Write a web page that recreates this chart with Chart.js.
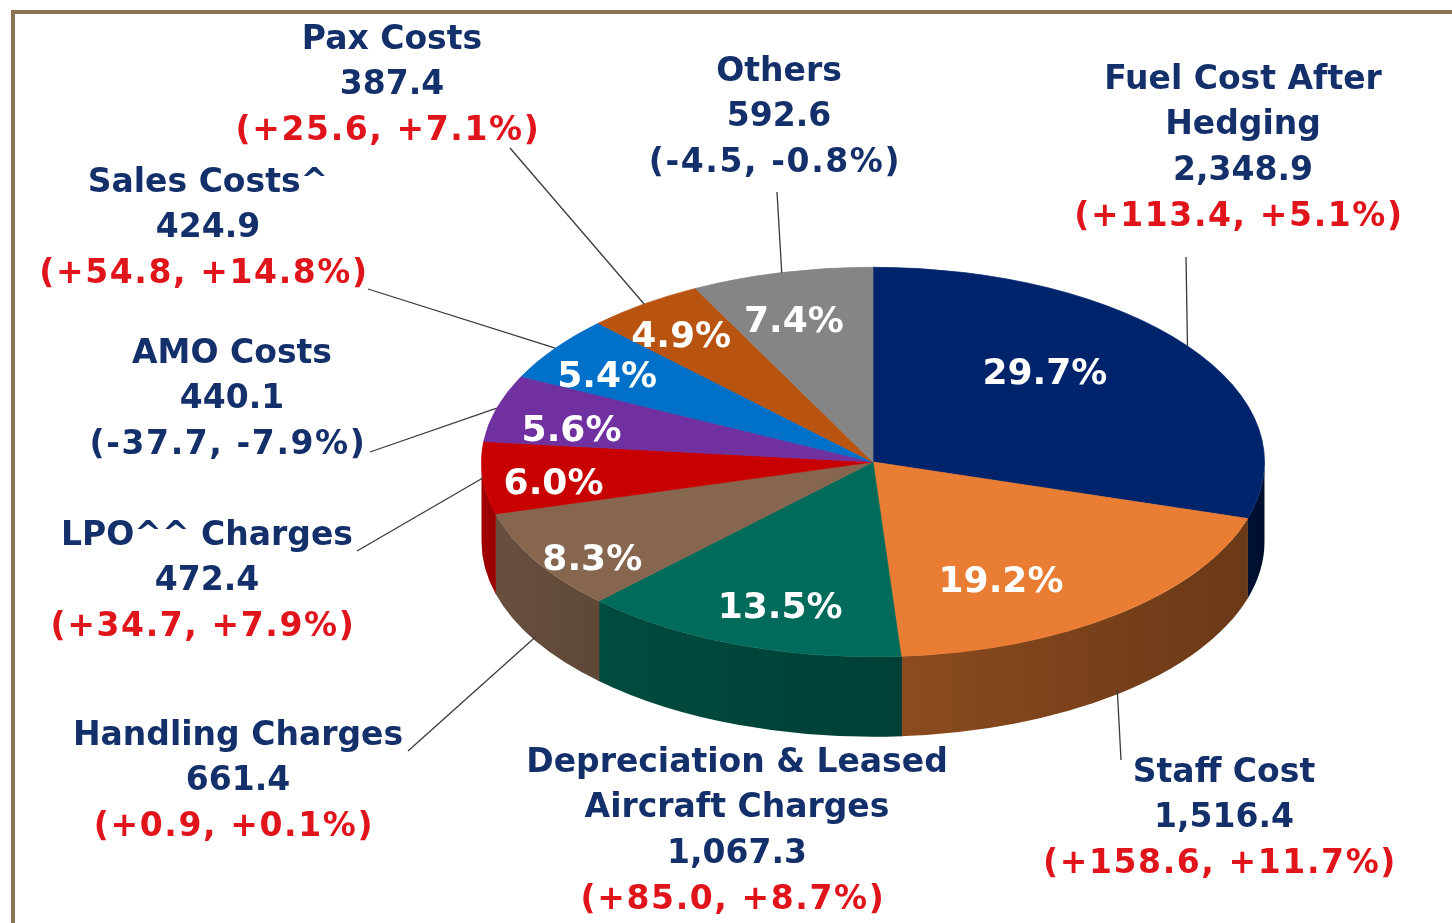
<!DOCTYPE html>
<html>
<head>
<meta charset="utf-8">
<script src="https://cdn.jsdelivr.net/npm/chart.js@4.4.1/dist/chart.umd.min.js"></script>
<style>
  html, body { margin: 0; padding: 0; background: #fff; }
  #wrap { position: relative; width: 1452px; height: 923px; overflow: hidden; }
  #frame { position: absolute; left: 11px; top: 10px; right: -10px; bottom: -10px;
           border-top: 4px solid #8b7355; border-left: 4px solid #8b7355; }
  canvas { position: absolute; left: 0; top: 0; }
</style>
</head>
<body>
<div id="wrap">
  <div id="frame"></div>
  <canvas id="chart" width="1452" height="923"></canvas>
</div>
<script>
/* ---- Data ---- */
const categories = [
  ["Fuel Cost After", "Hedging"],
  ["Staff Cost"],
  ["Depreciation & Leased", "Aircraft Charges"],
  ["Handling Charges"],
  ["LPO^^ Charges"],
  ["AMO Costs"],
  ["Sales Costs^"],
  ["Pax Costs"],
  ["Others"],
];
const costs = [2348.9, 1516.4, 1067.3, 661.4, 472.4, 440.1, 424.9, 387.4, 592.6];
const changeAbs = [113.4, 158.6, 85.0, 0.9, 34.7, -37.7, 54.8, 25.6, -4.5];
const changePct = [5.1, 11.7, 8.7, 0.1, 7.9, -7.9, 14.8, 7.1, -0.8];
const shares = [29.7, 19.2, 13.5, 8.3, 6.0, 5.6, 5.4, 4.9, 7.4];

/* ---- Styles / layout ---- */
const sliceColors = ["#00246b", "#e87d33", "#006b5a", "#876650", "#c80000",
                     "#7030a0", "#0070c8", "#b85410", "#858585"];
const TILT = 0.4975;   // vertical squash of the pie
const DEPTH = 80;      // thickness of the 3D side
const LINE_H = 45.7;
const NAVY = "#13306b";
const RED = "#e0141b";

// outside label: centre x, first line y, leader start, leader hits bottom rim
const outerLabels = [
  { x: 1243, y: 80,  from: [1186, 257], rim: false },
  { x: 1224, y: 773, from: [1121, 760], rim: true },
  { x: 737,  y: 763, from: null,        rim: true },
  { x: 238,  y: 736, from: [408, 751],  rim: true },
  { x: 207,  y: 536, from: [357, 551],  rim: false },
  { x: 232,  y: 354, from: [370, 452],  rim: false },
  { x: 208,  y: 183, from: [368, 289],  rim: false },
  { x: 392,  y: 40,  from: [510, 148],  rim: false },
  { x: 779,  y: 72,  from: [777, 192],  rim: false },
];
// percentage label positions, relative to centre in radius units
const innerLabels = [[0.439, -0.446], [0.327, 0.621], [-0.237, 0.754], [-0.717, 0.508],
                     [-0.816, 0.118], [-0.770, -0.154], [-0.679, -0.431], [-0.490, -0.636],
                     [-0.202, -0.713]];

/* ---- Helpers ---- */
function shade(hex, f) {
  const n = parseInt(hex.slice(1), 16);
  const r = Math.round(((n >> 16) & 255) * f);
  const g = Math.round(((n >> 8) & 255) * f);
  const b = Math.round((n & 255) * f);
  return `rgb(${r},${g},${b})`;
}
// side lit from the left: darker where the wall faces right
const sideLight = (a) => 0.42 + 0.38 * (a / Math.PI);
const fmt = (v) => v.toLocaleString("en-US", { minimumFractionDigits: 1, maximumFractionDigits: 1 });
const signed = (v) => (v >= 0 ? "+" : "-") + fmt(Math.abs(v));

/* ---- 3D pie plugin ---- */
const pie3d = {
  id: "pie3d",
  beforeDatasetsDraw(chart) {
    const ctx = chart.ctx;
    const arcs = chart.getDatasetMeta(0).data;
    const { x: cx, y: cy, outerRadius: R } = arcs[0];
    const ry = R * TILT;

    // side walls of the front-facing slices
    arcs.forEach((arc, i) => {
      const a0 = Math.max(arc.startAngle, 0);
      const a1 = Math.min(arc.endAngle, Math.PI);
      if (a1 <= a0) return;
      const xl = cx + R * Math.cos(a1), xr = cx + R * Math.cos(a0);
      const grad = ctx.createLinearGradient(xl, 0, xr, 0);
      grad.addColorStop(0, shade(sliceColors[i], sideLight(a1)));
      grad.addColorStop(1, shade(sliceColors[i], sideLight(a0)));
      ctx.beginPath();
      ctx.ellipse(cx, cy, R, ry, 0, a0 - 0.002, a1 + 0.002, false);
      ctx.ellipse(cx, cy + DEPTH, R, ry, 0, a1 + 0.002, a0 - 0.002, true);
      ctx.closePath();
      ctx.fillStyle = grad;
      ctx.fill();
    });

    // squash the top face into an ellipse
    ctx.save();
    ctx.translate(cx, cy);
    ctx.scale(1, TILT);
    ctx.translate(-cx, -cy);
  },
  afterDatasetsDraw(chart) {
    chart.ctx.restore();
  },
  afterDraw(chart) {
    const ctx = chart.ctx;
    const arcs = chart.getDatasetMeta(0).data;
    const { x: cx, y: cy, outerRadius: R } = arcs[0];
    const ry = R * TILT;

    ctx.save();
    // leader lines
    ctx.strokeStyle = "#3a3a3a";
    ctx.lineWidth = 1.3;
    arcs.forEach((arc, i) => {
      const lab = outerLabels[i];
      if (!lab.from) return;
      const m = (arc.startAngle + arc.endAngle) / 2;
      const ax = cx + R * Math.cos(m);
      const ay = cy + ry * Math.sin(m) + (lab.rim ? DEPTH - 4 : 0);
      ctx.beginPath();
      ctx.moveTo(lab.from[0], lab.from[1]);
      ctx.lineTo(ax, ay);
      ctx.stroke();
    });

    // outside labels
    ctx.textAlign = "center";
    ctx.textBaseline = "middle";
    ctx.font = 'bold 33px "DejaVu Sans"';
    categories.forEach((name, i) => {
      const lab = outerLabels[i];
      const lines = [...name, fmt(costs[i])];
      let y = lab.y;
      ctx.fillStyle = NAVY;
      ctx.letterSpacing = "0px";
      lines.forEach((t) => { ctx.fillText(t, lab.x, y); y += LINE_H; });
      ctx.fillStyle = changeAbs[i] >= 0 ? RED : NAVY;
      ctx.letterSpacing = "1.6px";
      ctx.fillText(`(${signed(changeAbs[i])}, ${signed(changePct[i])}%)`, lab.x - 4, y);
    });

    // percentage labels on the slices
    ctx.letterSpacing = "0px";
    ctx.font = 'bold 36px "DejaVu Sans"';
    ctx.fillStyle = "#ffffff";
    shares.forEach((s, i) => {
      const [nx, ny] = innerLabels[i];
      ctx.fillText(s.toFixed(1) + "%", cx + nx * R, cy + ny * ry);
    });
    ctx.restore();
  },
};

new Chart(document.getElementById("chart"), {
  type: "pie",
  data: {
    labels: categories.map((c) => c.join(" ")),
    datasets: [{
      data: costs,
      backgroundColor: sliceColors,
      borderColor: sliceColors,
      borderWidth: 1,
      hoverOffset: 0,
      offset: 0,
      clip: false,
    }],
  },
  options: {
    responsive: false,
    animation: false,
    events: [],
    layout: { padding: { left: 481, right: 187, top: 70, bottom: 69 } },
    plugins: { legend: { display: false }, tooltip: { enabled: false } },
  },
  plugins: [pie3d],
});
</script>
</body>
</html>
